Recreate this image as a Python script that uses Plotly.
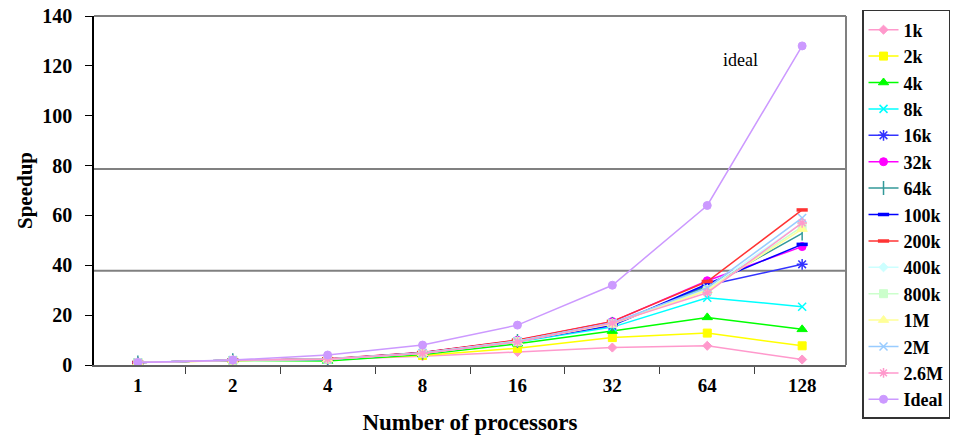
import plotly.graph_objects as go

procs = ["1", "2", "4", "8", "16", "32", "64", "128"]

s_1k = [1, 1.8, 2.2, 3.5, 5.2, 7.0, 7.7, 2.2]
s_2k = [1, 1.8, 2.4, 3.8, 6.7, 11.0, 12.8, 7.7]
s_4k = [1, 1.9, 1.6, 4.2, 8.5, 13.6, 19.1, 14.3]
s_8k = [1, 1.9, 2.2, 4.6, 9.2, 15.2, 27.0, 23.4]
s_16k = [1, 1.9, 2.3, 4.8, 9.5, 15.8, 32.0, 40.4]
s_32k = [1, 1.9, 2.4, 5.0, 9.9, 17.4, 33.8, 47.5]
s_64k = [1, 1.9, 2.3, 4.9, 9.6, 16.5, 31.5, 52.8]
s_100k = [1, 1.9, 2.3, 4.9, 9.7, 16.0, 32.5, 48.4]
s_200k = [1, 1.9, 2.5, 5.0, 10.0, 17.5, 33.5, 62.2]
s_400k = [1, 1.9, 2.3, 4.8, 9.6, 16.8, 30.5, 57.0]
s_800k = [1, 1.9, 2.3, 4.7, 9.4, 16.6, 30.0, 55.5]
s_1M = [1, 1.9, 2.3, 4.7, 9.4, 16.4, 30.0, 54.5]
s_2M = [1, 1.9, 2.4, 4.8, 9.5, 17.0, 31.0, 59.0]
s_2_6M = [1, 1.9, 2.3, 4.6, 9.2, 16.8, 29.0, 57.0]
s_ideal = [1, 2, 4, 8, 16, 32, 64, 128]

ref_lines = [78.6, 37.8]

series = [
    ("1k", s_1k, "#FF99CC", "diamond", 7, 1),
    ("2k", s_2k, "#FFFF00", "square", 8, 1),
    ("4k", s_4k, "#00FF00", "triangle-up", 9, 1),
    ("8k", s_8k, "#00FFFF", "x-thin-open", 8, 1.5),
    ("16k", s_16k, "#3333FF", "asterisk-open", 9, 1.5),
    ("32k", s_32k, "#FF00FF", "circle", 8, 1),
    ("64k", s_64k, "#339999", "line-ns-open", 10, 1.5),
    ("100k", s_100k, "#0000FF", "line-ew-open", 8, 3.5),
    ("200k", s_200k, "#FF3333", "line-ew-open", 8, 3.5),
    ("400k", s_400k, "#CCFFFF", "diamond", 7, 1),
    ("800k", s_800k, "#CCFFCC", "square", 8, 1),
    ("1M", s_1M, "#FFFF99", "triangle-up", 9, 1),
    ("2M", s_2M, "#99CCFF", "x-thin-open", 8, 1.5),
    ("2.6M", s_2_6M, "#FF99CC", "asterisk-open", 8, 1.5),
    ("Ideal", s_ideal, "#CC99FF", "circle", 8, 1),
]

FONT = "Liberation Serif"

fig = go.Figure()
for name, vals, color, sym, size, mlw in series:
    fig.add_trace(go.Scatter(
        x=procs, y=vals, name=name, mode="lines+markers",
        line=dict(color=color, width=1.5),
        marker=dict(symbol=sym, size=size, color=color,
                    line=dict(color=color, width=mlw)),
    ))

for v in ref_lines:
    fig.add_shape(type="line", xref="paper", yref="y", x0=0, x1=1, y0=v, y1=v,
                  line=dict(color="#808080", width=2), layer="below")

# plot area frame (top and right)
fig.add_shape(type="line", xref="paper", yref="paper", x0=0, x1=1, y0=1, y1=1,
              line=dict(color="#808080", width=2))
fig.add_shape(type="line", xref="paper", yref="paper", x0=1, x1=1, y0=0, y1=1,
              line=dict(color="#808080", width=2))

fig.add_annotation(text="ideal", x=0.8856, y=122.3, xref="paper", yref="y",
                   showarrow=False, font=dict(family=FONT, size=18, color="black"))

fig.update_layout(
    width=956, height=438,
    margin=dict(l=94, r=110, t=16, b=73, autoexpand=False),
    paper_bgcolor="white", plot_bgcolor="white",
    font=dict(family=FONT, color="black"),
    showlegend=True,
    legend=dict(
        x=1.0213, y=1.0172, xanchor="left", yanchor="top",
        bordercolor="#333333", borderwidth=1.5,
        font=dict(family=FONT, size=18, color="black", weight="bold"),
        tracegroupgap=0, itemwidth=30, maxheight=1,
    ),
    xaxis=dict(
        type="category", tickson="boundaries", ticks="outside", ticklen=7,
        tickcolor="#404040", showline=True, linecolor="#606060", linewidth=1.5,
        showgrid=False, zeroline=False, ticklabelstandoff=2,
        tickfont=dict(family=FONT, size=19, weight="bold"),
        title=dict(text="Number of processors", standoff=19,
                   font=dict(family=FONT, size=23, weight="bold")),
    ),
    yaxis=dict(
        range=[0, 140], dtick=20, ticks="outside", ticklen=7,
        tickcolor="black", showline=True, linecolor="black", linewidth=1.5,
        showgrid=False, zeroline=False, ticklabelstandoff=9,
        tickfont=dict(family=FONT, size=20, weight="bold"),
        title=dict(text="Speedup", standoff=4,
                   font=dict(family=FONT, size=21, weight="bold")),
    ),
)

fig.write_html("out.html", config={"displayModeBar": False},
               post_script="document.body.style.margin='0';document.body.style.overflow='hidden';")
